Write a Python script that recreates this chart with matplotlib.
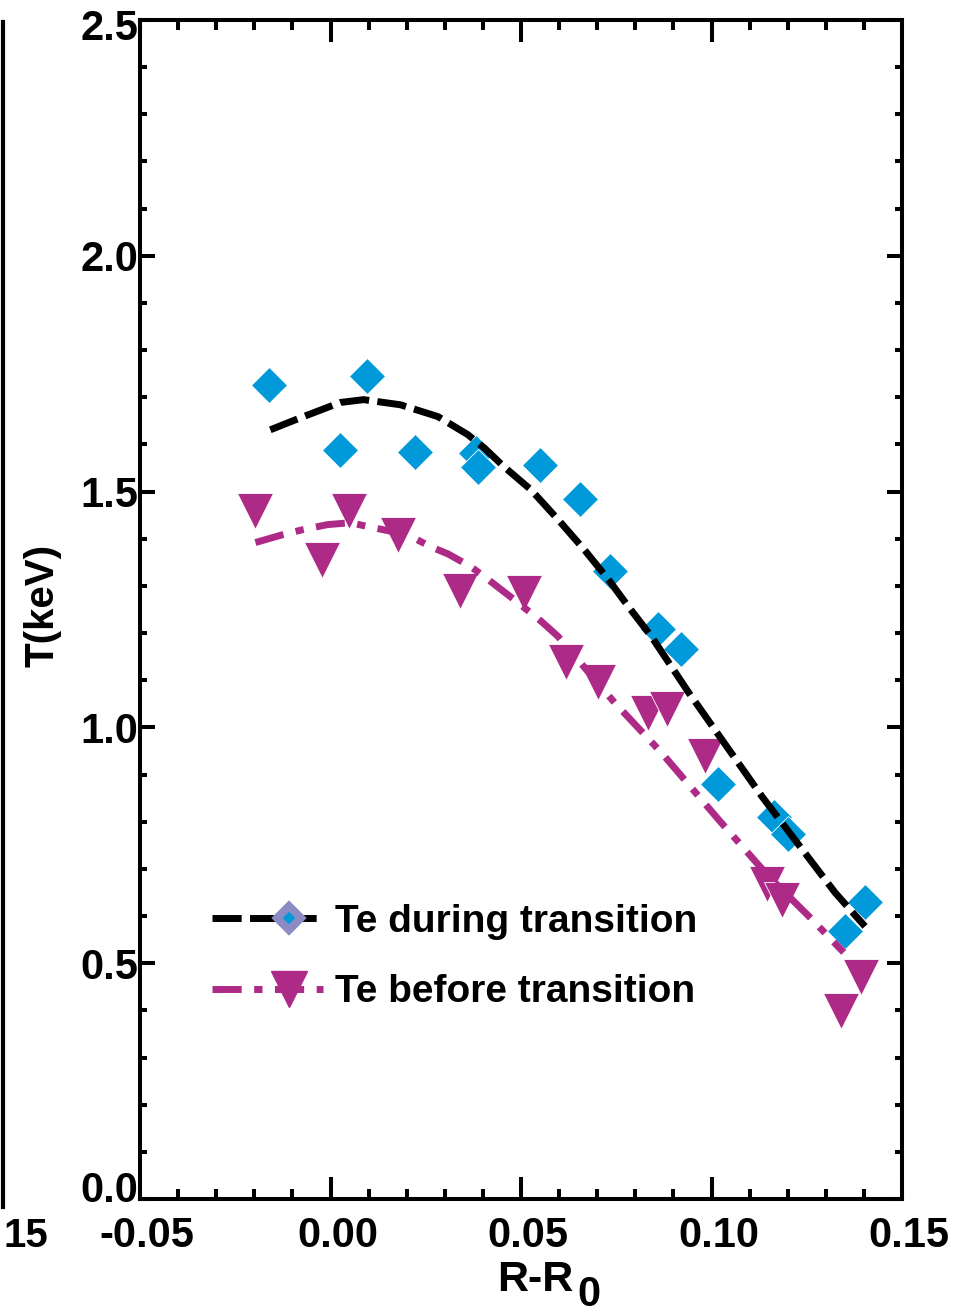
import matplotlib
matplotlib.use("Agg")
import matplotlib.pyplot as plt
from matplotlib.lines import Line2D
from matplotlib.legend_handler import HandlerLine2DCompound
from matplotlib.ticker import MultipleLocator, FormatStrFormatter
from matplotlib.transforms import ScaledTranslation

plt.rcParams["font.family"] = ["Liberation Sans", "DejaVu Sans"]
plt.rcParams["font.weight"] = "bold"
plt.rcParams["axes.unicode_minus"] = False
plt.rcParams["lines.scale_dashes"] = False

BLUE = "#009ADA"
MAGENTA = "#AE2A87"

# Te during transition (diamonds)
during_x = [-0.0161, 0.0095, 0.0024, 0.0221, 0.0382, 0.0387, 0.0550, 0.0655,
            0.0734, 0.0860, 0.0921, 0.1016, 0.1163, 0.1200, 0.1403, 0.1350]
during_y = [1.725, 1.746, 1.589, 1.585, 1.581, 1.553, 1.557, 1.485,
            1.331, 1.208, 1.167, 0.879, 0.809, 0.773, 0.629, 0.568]

# Te before transition (triangles)
before_x = [-0.0197, -0.0021, 0.0048, 0.0176, 0.0340, 0.0509, 0.0618, 0.0703,
            0.0834, 0.0884, 0.0984, 0.1145, 0.1184, 0.1392, 0.1339]
before_y = [1.458, 1.356, 1.458, 1.409, 1.290, 1.284, 1.138, 1.097,
            1.031, 1.038, 0.939, 0.667, 0.634, 0.470, 0.398]

# fitted curves
fit_during_x = [-0.0158, -0.0071, 0.0026, 0.0087, 0.0184, 0.0282, 0.0360, 0.0403,
                0.0455, 0.0526, 0.0597, 0.0666, 0.0729, 0.0782, 0.0842, 0.0940,
                0.1132, 0.1324, 0.1403]
fit_during_y = [1.631, 1.659, 1.689, 1.695, 1.684, 1.659, 1.621, 1.593,
                1.553, 1.504, 1.441, 1.377, 1.314, 1.256, 1.193, 1.074,
                0.854, 0.650, 0.578]

fit_before_x = [-0.0197, -0.0124, -0.0074, -0.0008, 0.0053, 0.0097, 0.0176, 0.0211,
                0.0263, 0.0308, 0.0368, 0.0413, 0.0482, 0.0553, 0.0597, 0.0745,
                0.0868, 0.1018, 0.1150, 0.1255, 0.1347]
fit_before_y = [1.392, 1.409, 1.419, 1.430, 1.434, 1.426, 1.413, 1.405,
                1.383, 1.368, 1.341, 1.314, 1.271, 1.225, 1.193, 1.053,
                0.947, 0.805, 0.684, 0.600, 0.523]

labels = ["Te during transition", "Te before transition"]

DASH = (21, 6)
DASHDOT = (21, 9, 6, 9)


class ShiftedMarker(HandlerLine2DCompound):
    # legend marker sits right of the handle centre in the original
    def create_artists(self, legend, orig_handle, xdescent, ydescent, width,
                       height, fontsize, trans):
        artists = super().create_artists(legend, orig_handle, xdescent, ydescent,
                                         width, height, fontsize, trans)
        mk = artists[-1]
        mk.set_xdata([x + 0.19 * width for x in mk.get_xdata()])
        return artists


W, H = 954, 1315
fig = plt.figure(figsize=(W / 100, H / 100), dpi=100)
ax = fig.add_axes([140 / W, 1 - 1199 / H, 762 / W, 1179 / H])

ax.plot(before_x, before_y, "v", ms=26, color=MAGENTA, mec="white", mew=0.6, zorder=2)
ax.plot(during_x, during_y, "D", ms=18, color=BLUE, mec="white", mew=0.6, zorder=2.2)
ax.plot(fit_before_x, fit_before_y, color=MAGENTA, lw=5, dashes=DASHDOT,
        dash_capstyle="butt", zorder=3)
ax.plot(fit_during_x, fit_during_y, color="black", lw=5, dashes=DASH,
        dash_capstyle="butt", zorder=3.1)

ax.set_xlim(-0.05, 0.15)
ax.set_ylim(0, 2.5)
ax.xaxis.set_major_locator(MultipleLocator(0.05))
ax.xaxis.set_minor_locator(MultipleLocator(0.01))
ax.yaxis.set_major_locator(MultipleLocator(0.5))
ax.yaxis.set_minor_locator(MultipleLocator(0.1))
ax.xaxis.set_major_formatter(FormatStrFormatter("%.2f"))
ax.yaxis.set_major_formatter(FormatStrFormatter("%.1f"))

ax.tick_params(which="both", direction="in", top=True, right=True, width=2.9,
               labelsize=30)
ax.tick_params(axis="x", which="major", length=16, pad=12)
ax.tick_params(axis="x", which="minor", length=7.5)
ax.tick_params(axis="y", which="major", length=10.5, pad=1)
ax.tick_params(axis="y", which="minor", length=5)
for sp in ax.spines.values():
    sp.set_linewidth(2.9)

# x tick labels sit a little right of their ticks
shift = ScaledTranslation(7 / 100, 0, fig.dpi_scale_trans)
for lab in ax.get_xticklabels():
    lab.set_transform(lab.get_transform() + shift)

# end labels on the y axis are pulled inwards
for lab in ax.get_yticklabels():
    if lab.get_text() == "0.0":
        lab.set_transform(lab.get_transform()
                          + ScaledTranslation(0, 13 / 100, fig.dpi_scale_trans))
    elif lab.get_text() == "2.5":
        lab.set_transform(lab.get_transform()
                          + ScaledTranslation(0, -4 / 100, fig.dpi_scale_trans))

h1 = Line2D([], [], color="black", lw=5, dashes=DASH, dash_capstyle="butt",
            marker="D", ms=12, mfc=BLUE, mec="#8C8CC4", mew=5.8)
h2 = Line2D([], [], color=MAGENTA, lw=5, dashes=DASHDOT, dash_capstyle="butt",
            marker="v", ms=26, mfc=MAGENTA, mec=MAGENTA)
ax.legend([h1, h2], labels, loc="center left",
          bbox_to_anchor=((212 - 140) / 762, (1199 - 957) / 1179),
          frameon=False, prop={"weight": "bold", "size": 28},
          handlelength=2.86, handletextpad=0.3, labelspacing=0.9,
          borderpad=0, borderaxespad=0, numpoints=1,
          handler_map={h1: ShiftedMarker(), h2: ShiftedMarker()})

# axis labels
fig.text(43 / W, 1 - 605 / H, "T(keV)", rotation=90, ha="center", va="center",
         fontsize=29, fontweight="bold")
fig.text(497 / W, 1 - 1280 / H, "R-R", ha="left", va="center",
         fontsize=31, fontweight="bold")
fig.text(577 / W, 1 - 1295 / H, "0", ha="left", va="center",
         fontsize=30, fontweight="bold")

# remnant of neighbouring panel on the left
fig.add_artist(Line2D([2.5 / W, 2.5 / W], [1 - 22 / H, 1 - 1207 / H],
                      lw=3, color="black"))
fig.text(26 / W, 1 - 1236 / H, "15", ha="center", va="center",
         fontsize=29, fontweight="bold")

fig.savefig("out.png", dpi=100)
